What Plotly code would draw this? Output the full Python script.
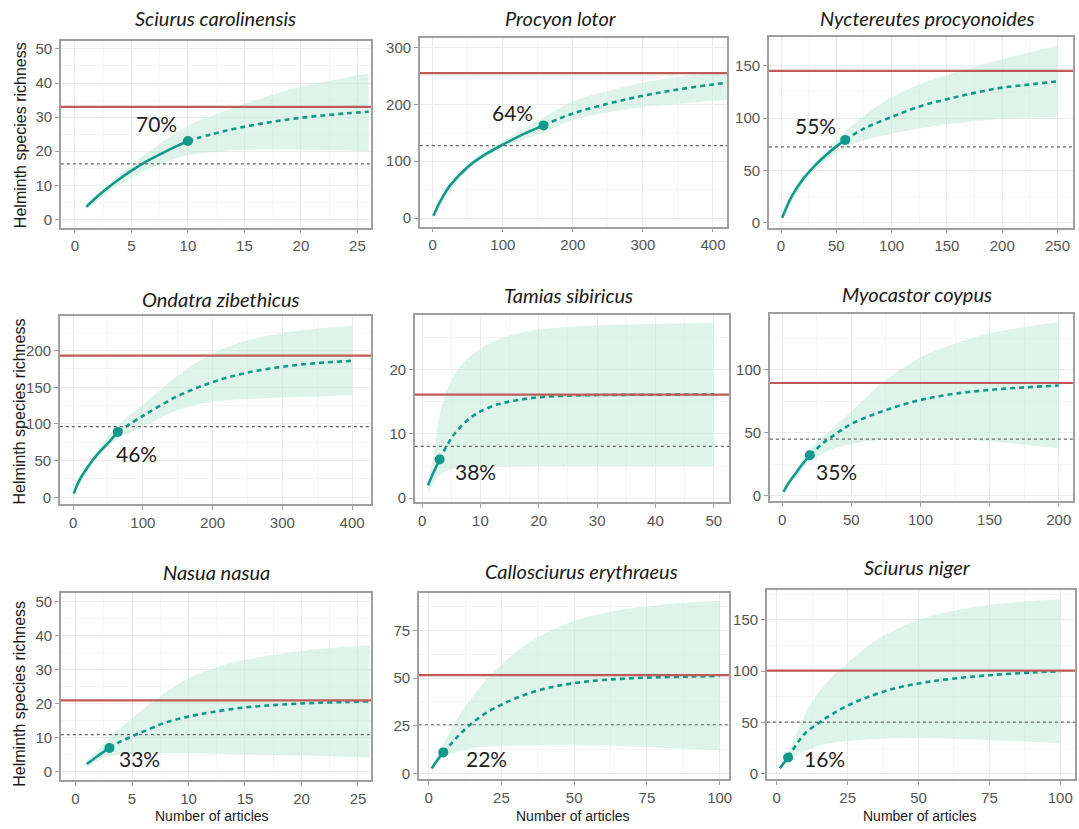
import plotly.graph_objects as go

W, H = 1079, 829

# ---------------- data ----------------
# 1 Sciurus carolinensis
sc_obs_x = [1, 2, 3, 4, 5, 6, 7, 8, 9, 10]
sc_obs_y = [3.7, 6.8, 9.5, 12.0, 14.3, 16.4, 18.2, 19.9, 21.5, 23.0]
sc_ext_x = [10, 12, 14, 16, 18, 20, 22, 24, 26]
sc_ext_y = [23.0, 24.9, 26.5, 27.8, 28.9, 29.8, 30.5, 31.1, 31.6]
sc_ci_x = [1, 3, 5, 7, 10, 13, 16, 20, 23, 26]
sc_ci_lo = [3.0, 8.0, 12.3, 15.5, 18.8, 20.0, 20.5, 20.5, 20.3, 20.0]
sc_ci_hi = [4.5, 10.5, 16.0, 21.0, 27.5, 31.5, 35.0, 39.0, 41.0, 42.8]

# 2 Procyon lotor
pl_obs_x = [1, 10, 25, 50, 75, 100, 125, 158]
pl_obs_y = [4, 28, 58, 90, 112, 129, 145, 163]
pl_ext_x = [158, 200, 250, 300, 350, 400, 420]
pl_ext_y = [163, 184, 201, 215, 226, 235, 238]
pl_ci_x = [1, 50, 100, 158, 200, 250, 300, 350, 420]
pl_ci_lo = [3, 85, 122, 151, 172, 186, 195, 201, 208]
pl_ci_hi = [5, 95, 136, 177, 205, 224, 238, 248, 258]

# 3 Nyctereutes procyonoides
np_obs_x = [1, 5, 10, 20, 30, 40, 50, 58]
np_obs_y = [5, 15, 26, 42, 54, 64, 73, 79]
np_ext_x = [58, 75, 100, 125, 150, 175, 200, 225, 250]
np_ext_y = [79, 90, 101, 111, 118, 124, 129, 132, 135]
np_ci_x = [1, 25, 58, 80, 100, 125, 150, 175, 200, 225, 250]
np_ci_lo = [4, 44, 72, 80, 85, 90, 94, 97, 99, 100.5, 101.5]
np_ci_hi = [5.5, 50, 87, 106, 120, 132, 141, 149, 156, 163, 169]

# 4 Ondatra zibethicus
oz_obs_x = [1, 5, 10, 20, 30, 40, 50, 64]
oz_obs_y = [5, 15, 25, 40, 53, 64, 74, 89]
oz_ext_x = [64, 100, 150, 200, 250, 300, 350, 400]
oz_ext_y = [89, 111, 138, 157, 170, 178, 183, 186]
oz_ci_x = [1, 30, 64, 100, 150, 200, 250, 300, 350, 400]
oz_ci_lo = [4, 48, 80, 96, 119, 130, 134, 136, 137.5, 139]
oz_ci_hi = [6, 58, 98, 126, 166, 196, 214, 224, 230, 234]

# 5 Tamias sibiricus
ts_obs_x = [1, 2, 3]
ts_obs_y = [2.0, 4.1, 6.0]
ts_ext_x = [3, 4, 5, 6, 8, 10, 13, 16, 20, 25, 30, 40, 50]
ts_ext_y = [6.0, 7.8, 9.3, 10.5, 12.3, 13.5, 14.6, 15.2, 15.7, 15.95, 16.05, 16.1, 16.15]
ts_ci_x = [1, 2, 3, 4, 5, 7, 10, 15, 20, 30, 40, 50]
ts_ci_lo = [0.6, 2.3, 3.6, 4.2, 4.5, 4.7, 4.8, 4.9, 5.0, 5.0, 5.0, 5.0]
ts_ci_hi = [2.6, 7.0, 13.0, 16.0, 18.3, 21.0, 23.3, 25.3, 26.2, 26.9, 27.1, 27.3]

# 6 Myocastor coypus
mc_obs_x = [1, 3, 5, 10, 15, 20]
mc_obs_y = [3, 7, 10.5, 18, 25.5, 32]
mc_ext_x = [20, 30, 40, 50, 75, 100, 125, 150, 175, 200]
mc_ext_y = [32, 42, 50, 57, 68, 76, 81, 84, 86, 87.5]
mc_ci_x = [1, 10, 20, 35, 50, 75, 100, 125, 150, 175, 200]
mc_ci_lo = [2.5, 15, 27, 36, 41, 44.5, 45.5, 45, 43, 40.5, 37.5]
mc_ci_hi = [3.7, 20, 37, 52, 67, 92, 110, 121, 129, 134, 138]

# 7 Nasua nasua
nn_obs_x = [1, 2, 3]
nn_obs_y = [2.3, 4.7, 7.0]
nn_ext_x = [3, 4, 5, 6, 8, 10, 12, 15, 18, 21, 24, 26]
nn_ext_y = [7.0, 8.9, 10.4, 11.8, 14.5, 16.2, 17.5, 18.9, 19.7, 20.2, 20.5, 20.7]
nn_ci_x = [1, 2, 3, 5, 7, 10, 13, 16, 20, 23, 26]
nn_ci_lo = [1.5, 3.2, 4.6, 5.3, 5.5, 5.5, 5.3, 5.0, 4.7, 4.5, 4.2]
nn_ci_hi = [3.2, 6.5, 10, 15.8, 21, 27.5, 31.3, 33.5, 35.5, 36.5, 37.2]

# 8 Callosciurus erythraeus
ce_obs_x = [1, 3, 5]
ce_obs_y = [2.6, 7.0, 11.0]
ce_ext_x = [5, 8, 11, 15, 20, 25, 30, 40, 50, 60, 75, 90, 100]
ce_ext_y = [11, 16, 21, 26.5, 32, 36, 39.5, 44.5, 47.3, 49, 50.2, 50.8, 51]
ce_ci_x = [1, 3, 5, 10, 15, 20, 25, 35, 50, 65, 80, 100]
ce_ci_lo = [2, 5.5, 8.5, 11.5, 13.2, 14, 14.3, 14.8, 15, 14.5, 13.5, 12.3]
ce_ci_hi = [3.2, 9, 15, 29, 40, 49.5, 57, 69, 80, 85.5, 88.5, 90.5]

# 9 Sciurus niger
sn_obs_x = [1, 2, 3, 4]
sn_obs_y = [5.5, 9, 12.5, 16]
sn_ext_x = [4, 7, 10, 15, 20, 25, 30, 40, 50, 60, 75, 90, 100]
sn_ext_y = [16, 29, 39.5, 50, 59, 66.5, 72.5, 82, 88, 92, 96, 98.7, 99.8]
sn_ci_x = [1, 4, 7, 10, 15, 20, 25, 35, 50, 65, 80, 100]
sn_ci_lo = [4.5, 12, 18, 22.5, 27.5, 30.5, 32, 34, 35, 34, 32.5, 30]
sn_ci_hi = [6.5, 21, 40, 58, 80, 96, 108, 130, 150, 160, 166, 170]

species = ["Sciurus carolinensis", "Procyon lotor", "Nyctereutes procyonoides",
           "Ondatra zibethicus", "Tamias sibiricus", "Myocastor coypus",
           "Nasua nasua", "Callosciurus erythraeus", "Sciurus niger"]
asymptote = [33, 255, 145, 193, 16.1, 89.5, 21, 51.5, 100.5]
half_line = [16.3, 127.5, 72.5, 96.5, 8.05, 44.8, 10.9, 25.5, 50.3]
pct_label = ["70%", "64%", "55%", "46%", "38%", "35%", "33%", "22%", "16%"]
pct_x = [7.2, 114, 31.5, 90.5, 9.1, 39.6, 5.65, 19.7, 16.7]
pct_y = [28, 186, 93, 60, 4.2, 19, 3.8, 7.6, 15.2]
x_dtick = [5, 100, 50, 100, 10, 50, 5, 25, 25]
y_dtick = [10, 100, 50, 50, 10, 50, 10, 25, 50]
x_tickmax = [25, 400, 250, 400, 50, 200, 25, 100, 100]
y_tickmax = [50, 300, 150, 200, 20, 100, 50, 75, 150]

series = [
    (sc_obs_x, sc_obs_y, sc_ext_x, sc_ext_y, sc_ci_x, sc_ci_lo, sc_ci_hi),
    (pl_obs_x, pl_obs_y, pl_ext_x, pl_ext_y, pl_ci_x, pl_ci_lo, pl_ci_hi),
    (np_obs_x, np_obs_y, np_ext_x, np_ext_y, np_ci_x, np_ci_lo, np_ci_hi),
    (oz_obs_x, oz_obs_y, oz_ext_x, oz_ext_y, oz_ci_x, oz_ci_lo, oz_ci_hi),
    (ts_obs_x, ts_obs_y, ts_ext_x, ts_ext_y, ts_ci_x, ts_ci_lo, ts_ci_hi),
    (mc_obs_x, mc_obs_y, mc_ext_x, mc_ext_y, mc_ci_x, mc_ci_lo, mc_ci_hi),
    (nn_obs_x, nn_obs_y, nn_ext_x, nn_ext_y, nn_ci_x, nn_ci_lo, nn_ci_hi),
    (ce_obs_x, ce_obs_y, ce_ext_x, ce_ext_y, ce_ci_x, ce_ci_lo, ce_ci_hi),
    (sn_obs_x, sn_obs_y, sn_ext_x, sn_ext_y, sn_ci_x, sn_ci_lo, sn_ci_hi),
]

# ---------------- layout geometry (pixels) ----------------
boxes = [(61, 40, 372, 228), (421, 37, 729, 227), (771, 36, 1076, 228),
         (60, 317, 372, 506), (416, 316, 731, 504), (772, 315, 1076, 503),
         (61, 596, 372, 784), (420, 596, 731, 783), (769, 593, 1078, 783)]
x_ranges = [[-1.25, 26.2], [-18.5, 420], [-11, 264], [-19, 427], [-1.25, 52.6],
            [-8.9, 210.3], [-1.3, 26.15], [-3.4, 103.2], [-3.5, 105.2]]
y_ranges = [[-2.4, 52.4], [-15, 317], [-4.5, 177.5], [-9, 247], [-0.6, 28.5],
            [-4.3, 144.3], [-2.5, 52.4], [-3.1, 94.4], [-5.2, 178.5]]
title_pos = [(216, 17), (563, 17), (930, 17), (222, 300), (570, 296), (920, 295),
             (217, 574), (583, 573), (920, 569)]

TEAL = "#13998a"
BAND = "rgba(200,236,222,0.6)"
RED = "#bf5b57"
TICKFONT = dict(family="Liberation Sans Narrow, Liberation Sans, Arial", size=15, color="#555555")

fig = go.Figure()
layout = dict(width=W, height=H, autosize=False, margin=dict(l=0, r=0, t=0, b=0),
              paper_bgcolor="white", plot_bgcolor="white", showlegend=False)
shapes, annotations = [], []

for i in range(9):
    n = "" if i == 0 else str(i + 1)
    xa, ya = "x" + n, "y" + n
    ox, oy, ex, ey, cx, clo, chi = series[i]
    # CI band
    fig.add_trace(go.Scatter(x=cx, y=clo, xaxis=xa, yaxis=ya, mode="lines",
                             line=dict(width=0, shape="spline", color=BAND), hoverinfo="skip"))
    fig.add_trace(go.Scatter(x=cx, y=chi, xaxis=xa, yaxis=ya, mode="lines", fill="tonexty",
                             fillcolor=BAND, line=dict(width=0, shape="spline", color=BAND),
                             hoverinfo="skip"))
    # extrapolation
    fig.add_trace(go.Scatter(x=ex, y=ey, xaxis=xa, yaxis=ya, mode="lines",
                             line=dict(color=TEAL, width=2.6, dash="5px,4px", shape="spline")))
    # rarefaction
    fig.add_trace(go.Scatter(x=ox, y=oy, xaxis=xa, yaxis=ya, mode="lines",
                             line=dict(color=TEAL, width=2.6, shape="spline")))
    # observed point
    fig.add_trace(go.Scatter(x=[ox[-1]], y=[oy[-1]], xaxis=xa, yaxis=ya, mode="markers",
                             marker=dict(color=TEAL, size=10)))

    l, t, r, b = boxes[i]
    axis_common = dict(showline=True, mirror=True, linecolor="#a0a0a0", linewidth=1.5,
                       showgrid=True, gridcolor="#ebebeb", gridwidth=1, zeroline=False,
                       ticks="outside", ticklen=4, tickcolor="#a0a0a0", tickfont=TICKFONT,
                       fixedrange=True)
    layout["xaxis" + n] = dict(axis_common, domain=[l / W, r / W], anchor=ya,
                               range=x_ranges[i], tickmode="array",
                               tickvals=list(range(0, x_tickmax[i] + 1, x_dtick[i])),
                               minor=dict(tickvals=[v + x_dtick[i] / 2 for v in range(-x_dtick[i], x_tickmax[i] + x_dtick[i], x_dtick[i])],
                                          showgrid=True, gridcolor="#f5f5f5", ticks=""))
    layout["yaxis" + n] = dict(axis_common, domain=[1 - b / H, 1 - t / H], anchor=xa,
                               range=y_ranges[i], tickmode="array",
                               tickvals=list(range(0, y_tickmax[i] + 1, y_dtick[i])),
                               minor=dict(tickvals=[v + y_dtick[i] / 2 for v in range(-y_dtick[i], y_tickmax[i] + y_dtick[i], y_dtick[i])],
                                          showgrid=True, gridcolor="#f5f5f5", ticks=""))
    # asymptote and half lines
    shapes.append(dict(type="line", xref=xa + " domain", yref=ya, x0=0, x1=1,
                       y0=asymptote[i], y1=asymptote[i], line=dict(color=RED, width=2.2)))
    shapes.append(dict(type="line", xref=xa + " domain", yref=ya, x0=0, x1=1,
                       y0=half_line[i], y1=half_line[i],
                       line=dict(color="#666666", width=1.2, dash="dot")))
    annotations.append(dict(text=pct_label[i], x=pct_x[i], y=pct_y[i], xref=xa, yref=ya,
                            showarrow=False, font=dict(family="Lato", size=21, color="#1e1e1e")))
    tx, ty = title_pos[i]
    annotations.append(dict(text="<i>" + species[i] + "</i>", x=tx / W, y=1 - ty / H,
                            xref="paper", yref="paper", showarrow=False,
                            xanchor="center", yanchor="middle",
                            font=dict(family="Lato", size=20, color="#1a1a1a")))

# axis titles
for cy in [135, 413, 697]:
    annotations.append(dict(text="Helminth species richness", x=20 / W, y=1 - cy / H,
                            xref="paper", yref="paper", showarrow=False, textangle=-90,
                            xanchor="center", yanchor="middle",
                            font=dict(family="Liberation Sans", size=16, color="#1a1a1a")))
for cx in [213, 575, 923]:
    annotations.append(dict(text="Number of articles", x=cx / W, y=1 - 820 / H,
                            xref="paper", yref="paper", showarrow=False,
                            xanchor="center", yanchor="middle",
                            font=dict(family="Liberation Sans Narrow, Liberation Sans", size=14, color="#1a1a1a")))

layout["shapes"] = shapes
layout["annotations"] = annotations
fig.update_layout(**layout)
fig.write_html("out.html")
